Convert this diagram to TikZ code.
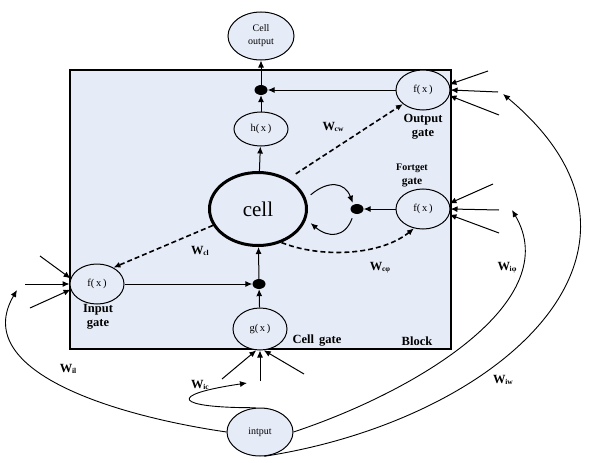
\documentclass[tikz,border=0pt]{standalone}
\usepackage{fontspec}
\setmainfont{Liberation Serif}
\usetikzlibrary{shapes.geometric,arrows.meta}
\definecolor{blockblue}{RGB}{230,236,247}
\newcommand{\wname}[1]{W\kern-0.3pt{\fontsize{7.5}{8}\selectfont\raisebox{-0.25ex}{#1}}}
\tikzset{
  unit/.style={ellipse,draw,line width=1pt,fill=blockblue,inner sep=0pt,minimum width=54pt,minimum height=40pt,font=\fontsize{10.5}{12}\selectfont},
  junc/.style={ellipse,fill=black,inner sep=0pt,minimum width=13pt,minimum height=10pt},
  arr/.style={-{Latex[length=7pt,width=6pt]},line width=1pt},
  darr/.style={arr,line width=1.6pt,dash pattern=on 5pt off 3pt},
  glab/.style={font=\bfseries\fontsize{12.5}{14}\selectfont,align=center},
  wlab/.style={font=\bfseries\fontsize{12.5}{13}\selectfont}
}
\begin{document}
\begin{tikzpicture}[x=1pt,y=-1pt]
  \useasboundingbox (0,0) rectangle (590,463);
  \filldraw[fill=blockblue,draw=black,line width=1.4pt] (70,70) rectangle (451,349);
  \node[unit,minimum width=66pt,minimum height=48pt,align=center,font=\fontsize{10}{13}\selectfont] (out) at (261,36) {Cell\\output};
  \node[junc] (jt) at (261,90) {};
  \node[unit,minimum height=34pt] (h) at (261,129) {h(\,x\,)};
  \node[unit] (og) at (423,90) {f(\,x\,)};
  \node[ellipse,draw,line width=3pt,fill=blockblue,inner sep=0pt,minimum width=97pt,minimum height=73pt,font=\fontsize{21}{23}\selectfont] (cell) at (258,209) {cell};
  \node[junc] (jf) at (357,209) {};
  \node[unit] (fg) at (423,209) {f(\,x\,)};
  \node[unit] (ig) at (97,284) {f(\,x\,)};
  \node[junc] (jb) at (259,284) {};
  \node[unit,minimum height=42pt] (g) at (260,329) {g(\,x\,)};
  \node[unit,minimum width=66pt,minimum height=48pt,font=\fontsize{10}{12}\selectfont] (in) at (260,432) {intput};
  \node[glab] (oglab) at (423,127) {Output\\gate};
  \node[font=\bfseries\fontsize{10}{11}\selectfont] (fglab1) at (412,168) {Fortget};
  \node[glab,font=\bfseries\fontsize{11.5}{13}\selectfont] (fglab2) at (412,183) {gate};
  \node[glab] (iglab) at (98,317) {Input\\gate};
  \node[glab] (cglab) at (317,341) {Cell\hspace{0.4em}gate};
  \node[glab] (blab) at (417,341) {Block};
  \node[wlab] (wcw) at (333,127) {\wname{cw}};
  \node[wlab] (wcl) at (200,251) {\wname{cl}};
  \node[wlab] (wcp) at (380,268) {\wname{cφ}};
  \node[wlab] (wip) at (507,268) {\wname{iφ}};
  \node[wlab] (wil) at (68,369) {\wname{il}};
  \node[wlab] (wic) at (200,385) {\wname{ic}};
  \node[wlab] (wiw) at (503,380) {\wname{iw}};
  \foreach \n/\x/\y in {oa1/488/71,oa2/498/92,oa3/499/115,
                        fa1/493/184,fa2/499/210,fa3/499/233,
                        ia1/40/256,ia2/25/284,ia3/30/308,
                        ga1/222/379,ga2/260/381,ga3/304/374,
                        iw/503/94,ip/512/210,il/17/290,ic/247/383}
    \coordinate (\n) at (\x,\y);
  \draw[arr] (h) -- (jt);
  \draw[arr] (jt) -- (out);
  \draw[arr] (og) -- (jt);
  \draw[arr] (cell) -- (h);
  \draw[arr] (jb) -- (cell);
  \draw[arr] (g) -- (jb);
  \draw[arr] (ig) -- (jb);
  \draw[arr] (fg) -- (jf);
  \draw[darr,shorten <=9pt] (cell.45) -- (og.215);
  \draw[darr] (cell.200) -- (ig.45);
  \draw[darr] (cell.-55) .. controls (320,258) and (380,256) .. (fg.-115);
  \draw[arr,shorten <=6pt,shorten >=2pt] (cell.12) .. controls (328,180) and (345,182) .. (jf.130);
  \draw[arr,shorten <=5pt,shorten >=6pt] (jf.235) .. controls (345,238) and (328,238) .. (cell.-12);
  \foreach \a/\b in {oa1/og.12,oa2/og.east,oa3/og.-12,fa1/fg.12,fa2/fg.east,fa3/fg.-12,
                     ia1/ig.168,ia2/ig.west,ia3/ig.192,ga1/g.-100,ga2/g.south,ga3/g.-80}
    \draw[arr] (\a) -- (\b);
  \draw[arr,line width=0.9pt] (in.west) .. controls (110,415) and (-30,370) .. (il);
  \draw[arr,line width=0.9pt] (in.100) .. controls (175,408) and (165,395) .. (ic);
  \draw[arr,line width=0.9pt] (in.east) .. controls (420,390) and (565,300) .. (ip);
  \draw[arr,line width=0.9pt] (in.-80) .. controls (500,420) and (690,250) .. (iw);
\end{tikzpicture}
\end{document}
